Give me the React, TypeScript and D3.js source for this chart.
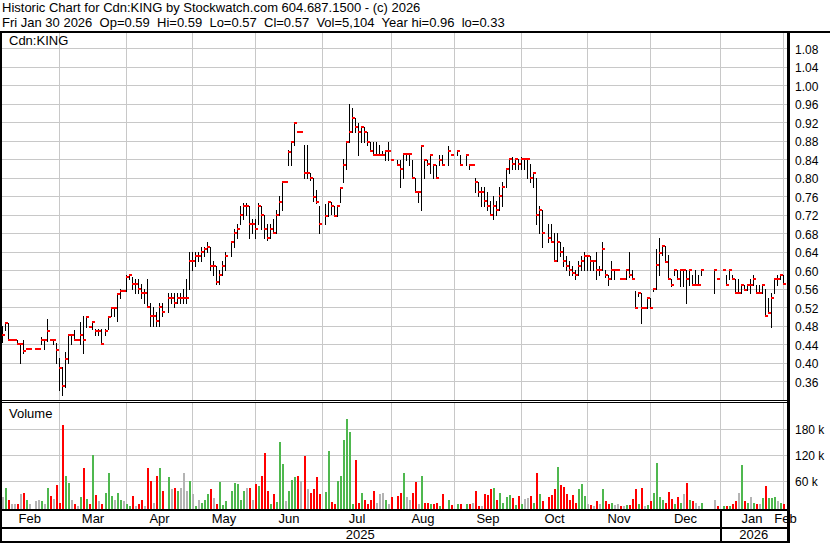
import React from "react";
import * as d3 from "d3";

const headerLine1 = "Historic Chart for Cdn:KING by Stockwatch.com 604.687.1500 - (c) 2026";
const headerLine2 = "Fri Jan 30 2026  Op=0.59  Hi=0.59  Lo=0.57  Cl=0.57  Vol=5,104  Year hi=0.96  lo=0.33";
const symbol = "Cdn:KING";

// one entry per weekday, Feb 3 2025 .. Jan 30 2026; null = holiday / no trade
// prettier-ignore
const high = [
  .48,.485,.485,.45,.45,.45,.44,.45,.43,.43,null,.43,.43,.455,.45,.494,.45,.45,.442,.41, // Feb
  .39,.424,.46,.46,.47,.45,.487,.50,.50,.477,.49,.472,.472,.472,.472,.50,.52,.52,.55,.56,.556, // Mar
  .59,.59,.585,.58,.58,.57,.56,.58,.53,.52,.51,.53,.53,null,.55,.55,.55,.55,.55,.56,.58,.64, // Apr
  .64,.64,.64,.65,.65,.66,.65,.62,.61,.60,.62,.64,null,.66,.69,.70,.74,.745,.745,.74,.71,.71, // May
  .745,.74,.72,.70,.70,.71,.73,.76,.79,.79,.86,.878,.919,.90,.90,.87,.87,.81,.80,.773,.74, // Jun
  null,.743,.748,.748,.74,.74,.778,.84,.878,.96,.95,.93,.919,.909,.909,.90,.878,.878,.878,.87,.858,.856,.878, // Jul
  .838,null,.838,.838,.851,.851,.851,.838,.80,.77,.87,.838,.838,.849,.828,.828,.849,.849,null,.869,.849, // Aug
  null,.858,.849,null,.849,.828,.828,.80,.79,.78,.78,.77,.75,.76,.75,.78,.79,.82,.84,.845,.84,.84, // Sep
  .845,.84,.84,.83,.81,.80,.74,.73,null,.70,.70,.68,.68,.66,.65,.63,.62,.61,.60,.62,.63,.64,.63, // Oct
  .63,.62,.64,.61,.66,.60,.59,.62,.60,.60,.58,.58,.60,.64,.60,.555,.55,.55,.518,.539, // Nov
  .539,.559,.647,.669,.652,.652,.632,.58,.60,.60,.60,.60,.60,.60,.59,.60,.59,.60,null,null,null,.60,.58, // Dec
  null,.60,.59,.60,.59,.58,.58,.569,.569,.569,.58,.59,.569,.569,.569,.559,.539,.55,.58,.59,.59,.59, // Jan
];

// prettier-ignore
const low = [
  .445,.47,.45,.45,.45,.44,.40,.422,.43,.43,null,.43,.43,.44,.43,.447,.45,.44,.40,.34,
  .33,.348,.40,.44,.45,.45,.44,.42,.477,.477,.472,.46,.46,.44,.459,.472,.50,.50,.49,.54,.556,
  .555,.58,.56,.55,.55,.54,.53,.52,.48,.48,.48,.48,.50,null,.51,.53,.52,.53,.53,.53,.53,.56,
  .60,.61,.62,.62,.63,.64,.60,.59,.57,.57,.59,.60,null,.63,.65,.67,.70,.71,.72,.67,.68,.67,
  .70,.69,.67,.665,.67,.68,.68,.72,.73,.79,.828,.828,.87,.90,.90,.80,.80,.795,.75,.745,.68,
  null,.70,.717,.722,.717,.717,.748,.79,.82,.878,.90,.90,.85,.878,.878,.87,.86,.85,.85,.85,.849,.838,.838,
  .838,null,.828,.78,.80,.838,.828,.80,.77,.748,.73,.80,.828,.81,.80,.80,.828,.83,null,.828,.849,
  null,.849,.828,null,.828,.82,.828,.77,.76,.74,.74,.73,.72,.71,.72,.73,.74,.78,.81,.82,.82,.82,
  .82,.82,.80,.79,.78,.70,.68,.65,null,.66,.66,.62,.62,.63,.61,.60,.59,.59,.58,.59,.60,.60,.60,
  .60,.60,.58,.59,.60,.585,.569,.58,.58,.60,.58,.58,.58,.585,.58,.518,.545,.485,.518,.518,
  .518,.555,.559,.59,.632,.618,.58,.565,.59,.58,.565,.565,.53,.569,.569,.569,.569,.59,null,null,null,.55,.58,
  null,.60,.569,.58,.58,.55,.55,.55,.557,.557,.55,.569,.55,.55,.55,.50,.508,.478,.55,.569,.58,.57,
];

// prettier-ignore
const close = [
  .46,.485,.45,.45,.45,.44,.44,.425,.43,.43,null,.43,.43,.45,.45,.468,.45,.45,.427,.389,
  .35,.408,.459,.459,.45,.45,.459,.45,.499,.477,.488,.468,.468,.44,.468,.499,.519,.519,.548,.556,.556,
  .585,.59,.57,.57,.56,.55,.55,.52,.50,.50,.49,.52,.51,null,.54,.54,.53,.54,.54,.54,.54,.62,
  .62,.63,.63,.64,.645,.65,.61,.61,.575,.59,.61,.63,null,.66,.68,.69,.72,.74,.74,.70,.70,.69,
  .74,.72,.69,.67,.69,.68,.72,.748,.79,.79,.855,.878,.919,.90,.90,.81,.81,.80,.759,.748,.699,
  null,.718,.748,.74,.717,.74,.778,.828,.878,.90,.93,.909,.90,.909,.90,.878,.858,.849,.849,.849,.849,.858,.858,
  .838,null,.828,.82,.851,.851,.851,.799,.77,.77,.869,.838,.83,.849,.828,.799,.838,.828,null,.858,.849,
  null,.858,.828,null,.849,.828,.828,.79,.77,.77,.75,.74,.72,.74,.73,.76,.78,.82,.84,.83,.84,.83,
  .84,.84,.84,.80,.81,.72,.73,.68,null,.67,.66,.62,.66,.64,.62,.61,.60,.595,.59,.61,.62,.63,.63,
  .62,.62,.60,.60,.647,.59,.58,.60,.60,.60,.58,.58,.60,.59,.58,.518,.55,.518,.518,.539,
  .518,.559,.611,.638,.652,.618,.58,.569,.60,.58,.60,.60,.58,.60,.569,.569,.569,.60,null,null,null,.60,.58,
  null,.60,.569,.60,.58,.55,.55,.569,.557,.569,.569,.58,.55,.55,.569,.50,.508,.539,.58,.58,.59,.57,
];

// volume in thousands of shares
// prettier-ignore
const volume = [
  21,42,15,6,6,6,28,31,15,6,0,13,15,13,6,42,25,17,51,9,
  190,70,55,15,6,2,21,90,17,6,119,26,13,6,32,78,25,15,32,15,12,
  6,2,24,2,6,15,2,90,60,9,72,90,36,0,69,40,42,36,43,78,37,60,
  28,2,15,9,15,30,41,19,6,57,4,13,0,36,55,52,15,37,42,42,15,53,
  47,71,124,36,6,28,11,151,99,13,36,62,69,71,60,117,40,31,40,69,28,
  0,34,130,11,6,60,70,155,203,174,6,108,8,31,15,6,15,36,9,28,31,15,6,
  23,0,24,31,77,22,15,31,57,6,71,9,9,6,6,9,2,28,0,16,4,
  0,6,6,0,6,6,7,36,2,2,28,27,40,43,15,31,9,21,26,19,4,24,
  6,17,19,25,9,77,30,13,0,21,27,40,92,49,45,30,15,27,9,40,52,25,6,
  4,2,12,6,40,13,6,9,4,6,2,2,3,4,18,40,6,43,2,3,
  13,31,102,21,15,9,34,17,6,22,9,28,55,16,13,7,2,9,0,0,0,15,1,
  0,1,1,2,6,13,32,96,13,9,21,9,6,6,19,47,19,19,22,13,9,5,
];

const priceTicks = [0.36, 0.40, 0.44, 0.48, 0.52, 0.56, 0.60, 0.64, 0.68, 0.72, 0.76, 0.80, 0.84, 0.88, 0.92, 0.96, 1.00, 1.04, 1.08];
const volumeTicks = [60, 120, 180];
const monthNames = ["Feb", "Mar", "Apr", "May", "Jun", "Jul", "Aug", "Sep", "Oct", "Nov", "Dec", "Jan", "Feb"];
const yearNames = ["2025", "2026"];

const W = 830;
const H = 543;
const FONT = "'Liberation Sans', Arial, Helvetica, sans-serif";
const RIGHT = 787; // inner edge of the right border
const GRID = "#c8c8c8";
const UP = "#4fb84f";
const DOWN = "#ff0000";
const FLAT = "#b4b4b4";

export default function App() {
  // weekday slots, one more (Feb 2 2026) to close the last month
  const days = d3
    .utcDays(new Date(Date.UTC(2025, 1, 3)), new Date(Date.UTC(2026, 1, 3)))
    .filter((d) => d.getUTCDay() % 6 !== 0);

  const x = d3.scaleLinear().domain([0, 1]).range([2, 2 + 3.015]);
  const yP = d3.scaleLinear().domain([0.36, 1.08]).range([381.2, 48.3]);
  const yV = d3.scaleLinear().domain([0, 180]).range([506.5, 429.1]);

  // month boundaries
  const bounds: number[] = [];
  days.forEach((d, i) => {
    if (i === 0 || d.getUTCMonth() !== days[i - 1].getUTCMonth()) {
      bounds.push(i === 0 ? 0 : i + (d.getUTCDate() === 1 ? 1 : 0));
    }
  });
  const gridX = (b: number) => Math.round(x(b) - 3) + 0.5;
  const monthLines = bounds.slice(1).map(gridX);
  const janLine = gridX(bounds[11]);

  const monthLabelX = bounds.map((b, k) => {
    const left = k === 0 ? 0 : gridX(b);
    if (k === bounds.length - 1) return left + 2;
    return (left + gridX(bounds[k + 1])) / 2;
  });
  const yearLabelX = [janLine / 2, (janLine + RIGHT) / 2];

  let prev: number | null = null;
  const volColor = close.map((c) => {
    if (c == null) return FLAT;
    const col = prev == null || c === prev ? FLAT : c > prev ? UP : DOWN;
    prev = c;
    return col;
  });

  const textStyle = { fontFamily: FONT, fill: "#000" };

  return (
    <svg width={W} height={H} style={{ position: "absolute", left: 0, top: 0, background: "#fff" }}>
      <rect x={0} y={0} width={W} height={H} fill="#fff" />

      <text x={2} y={12} fontSize={13} xmlSpace="preserve" style={{ ...textStyle, whiteSpace: "pre" }}>
        {headerLine1}
      </text>
      <text x={2} y={27} fontSize={13} xmlSpace="preserve" style={{ ...textStyle, whiteSpace: "pre" }}>
        {headerLine2}
      </text>

      <g shapeRendering="crispEdges">
        {/* price grid */}
        {priceTicks.map((t) => (
          <line key={"pg" + t} x1={2} x2={RIGHT} y1={Math.round(yP(t)) + 0.5} y2={Math.round(yP(t)) + 0.5} stroke={GRID} />
        ))}
        {monthLines.map((mx, i) => (
          <line key={"mg" + i} x1={mx} x2={mx} y1={33} y2={400} stroke={GRID} />
        ))}
        {/* volume grid */}
        {volumeTicks.map((t) => (
          <line key={"vg" + t} x1={2} x2={RIGHT} y1={Math.round(yV(t)) + 0.5} y2={Math.round(yV(t)) + 0.5} stroke={GRID} />
        ))}
        {monthLines.map((mx, i) => (
          <line key={"mv" + i} x1={mx} x2={mx} y1={403} y2={509} stroke={GRID} />
        ))}

        {/* high-low bars */}
        {high.map((h, i) => {
          const l = low[i];
          if (h == null || l == null || h <= l) return null;
          const top = Math.round(yP(h));
          const bot = Math.round(yP(l));
          return <rect key={"b" + i} x={Math.round(x(i))} y={top} width={1} height={bot - top + 1} fill="#000" />;
        })}
        {/* close ticks */}
        {close.map((c, i) =>
          c == null ? null : (
            <rect key={"c" + i} x={Math.round(x(i))} y={Math.round(yP(c)) - 1} width={3} height={2} fill={DOWN} />
          )
        )}

        {/* volume bars */}
        {volume.map((v, i) => {
          if (!v) return null;
          const top = Math.round(yV(v));
          return <rect key={"v" + i} x={Math.round(x(i))} y={top} width={2} height={509 - top} fill={volColor[i]} />;
        })}

        {/* frame */}
        <rect x={0} y={31} width={W} height={2} fill="#000" />
        <rect x={0} y={31} width={2} height={H - 31} fill="#000" />
        <rect x={RIGHT} y={31} width={3} height={H - 31} fill="#000" />
        <rect x={0} y={400} width={RIGHT} height={1} fill="#000" />
        <rect x={0} y={402} width={RIGHT} height={1} fill="#000" />
        <rect x={0} y={509} width={RIGHT} height={2} fill="#000" />
        <rect x={0} y={527} width={RIGHT} height={2} fill="#000" />
        <rect x={0} y={541} width={RIGHT} height={2} fill="#000" />
        <rect x={janLine - 1} y={509} width={2} height={H - 509} fill="#000" />
      </g>

      <text x={9} y={45} fontSize={13} style={textStyle}>
        {symbol}
      </text>
      <text x={9} y={418} fontSize={13} style={textStyle}>
        Volume
      </text>

      {priceTicks.map((t) => (
        <text key={"pt" + t} x={795} y={yP(t) + 5.5} fontSize={12} style={textStyle}>
          {d3.format(".2f")(t)}
        </text>
      ))}
      {volumeTicks.map((t) => (
        <text key={"vt" + t} x={795} y={yV(t) + 5} fontSize={12} style={textStyle}>
          {`${t} k`}
        </text>
      ))}

      {monthNames.map((m, k) => (
        <text key={"m" + k} x={monthLabelX[k]} y={523} fontSize={13} textAnchor="middle" style={textStyle}>
          {m}
        </text>
      ))}
      {yearNames.map((yr, k) => (
        <text key={"y" + yr} x={yearLabelX[k]} y={539} fontSize={13} textAnchor="middle" style={textStyle}>
          {yr}
        </text>
      ))}
    </svg>
  );
}
